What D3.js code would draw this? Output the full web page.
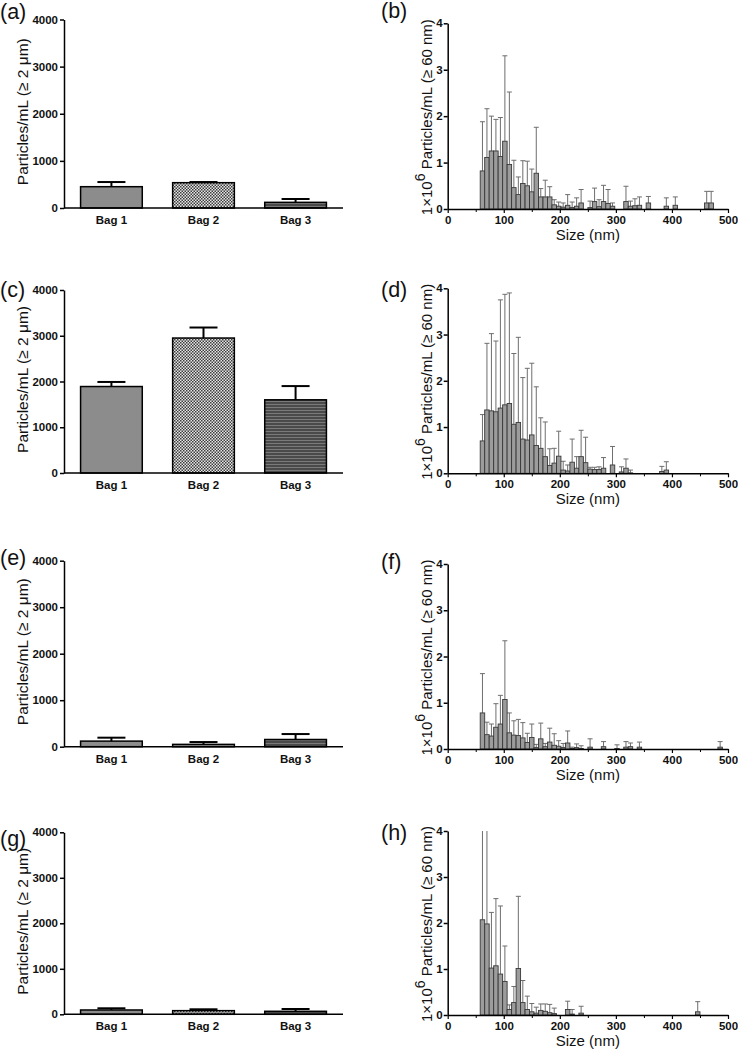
<!DOCTYPE html>
<html><head><meta charset="utf-8">
<script src="https://cdn.jsdelivr.net/npm/d3@7"></script>
<style>
html,body{margin:0;padding:0;background:#fff;}
svg{display:block;font-family:"Liberation Sans",Arial,sans-serif;}
.tick text{font-family:"Liberation Sans",Arial,sans-serif;font-weight:bold;font-size:11.5px;fill:#111;}
</style></head>
<body>
<svg id="chart" width="738" height="1050"></svg>
<script>
// ---------- DATA ----------
const bagCategories = ["Bag 1", "Bag 2", "Bag 3"];
const bagTicks = [0, 1000, 2000, 3000, 4000];
// mean and upper end of error bar (mean + SD), particles/mL >= 2 µm
const bagMeanA = [452, 537, 120];
const bagHighA = [551, 551, 191];
const bagMeanC = [1890, 2950, 1600];
const bagHighC = [1990, 3180, 1900];
const bagMeanE = [120, 50, 155];
const bagHighE = [194, 100, 272];
const bagMeanG = [95, 80, 66];
const bagHighG = [132, 110, 117];

const sizeTicks = [0, 100, 200, 300, 400, 500];
const sizeMinorTicks = [50, 150, 250, 350, 450];
const countTicks = [0, 1, 2, 3, 4];
const binWidth = 8; // nm

// (b)
const sizeB = [62,70,78,86,94,102,110,118,126,134,142,150,158,166,174,182,190,198,206,214,222,230,238,254,262,270,278,286,294,318,326,334,342,358,390,406,462,470];
const meanB = [0.82,1.11,1.25,1.25,1.13,1.46,0.96,0.46,0.31,0.55,0.50,0.37,0.77,0.26,0.26,0.26,0.09,0.06,0.04,0.08,0.03,0.06,0.13,0.03,0.16,0.05,0.16,0.12,0.06,0.16,0.06,0.07,0.08,0.13,0.06,0.08,0.13,0.13];
const highB = [1.88,2.16,2.00,1.93,1.97,3.30,2.52,1.05,0.69,1.04,1.03,0.86,1.76,0.44,0.62,0.48,0.20,0.15,0.13,0.31,0.15,0.24,0.42,0.17,0.45,0.20,0.51,0.42,0.13,0.49,0.17,0.22,0.26,0.27,0.24,0.26,0.38,0.38];

// (d)
const sizeD = [62,70,78,86,94,102,110,118,126,134,142,150,158,166,174,182,190,198,206,214,222,230,238,246,254,262,270,278,294,310,318,326,382,390];
const meanD = [0.70,1.37,1.35,1.33,1.41,1.48,1.51,1.06,1.10,0.74,0.72,0.83,0.60,0.54,0.36,0.17,0.22,0.37,0.07,0.05,0.24,0.11,0.36,0.23,0.09,0.08,0.08,0.11,0.18,0.03,0.11,0.01,0.04,0.07];
const highD = [1.27,2.81,3.02,2.86,3.75,3.87,3.90,2.59,2.94,2.07,2.27,2.38,1.87,1.20,1.11,0.53,0.54,0.91,0.26,0.18,0.74,0.36,0.93,0.78,0.13,0.13,0.14,0.34,0.58,0.14,0.31,0.07,0.15,0.25];

// (f)
const sizeF = [62,70,78,86,94,102,110,118,126,134,142,150,158,166,174,182,190,198,206,214,222,230,238,254,278,302,318,326,342,486];
const meanF = [0.78,0.31,0.28,0.47,0.54,1.07,0.35,0.30,0.29,0.24,0.14,0.25,0.03,0.22,0.05,0.15,0.08,0.06,0.03,0.13,0.01,0.03,0.01,0.04,0.05,0.01,0.04,0.05,0.04,0.04];
const highF = [1.63,0.58,0.54,0.98,1.16,2.34,0.78,0.61,0.64,0.57,0.34,0.54,0.10,0.56,0.12,0.45,0.33,0.18,0.12,0.39,0.04,0.11,0.07,0.22,0.16,0.09,0.16,0.13,0.15,0.16];

// (h)
const sizeH = [62,70,78,86,94,102,110,118,126,134,142,150,158,166,174,182,190,214,222,238,446];
const meanH = [2.07,1.98,1.02,1.07,0.89,0.73,0.12,0.27,1.01,0.27,0.12,0.07,0.04,0.10,0.08,0.05,0.03,0.12,0.02,0.04,0.07];
const highH = [4.6,4.4,2.23,2.53,2.37,1.50,0.22,0.62,2.58,0.75,0.41,0.25,0.17,0.24,0.24,0.23,0.15,0.30,0.12,0.19,0.29];

// ---------- LAYOUT ----------
const svg = d3.select("#chart");
const FONT = '"Liberation Sans", Arial, sans-serif';

const defs = svg.append("defs");
const checker = defs.append("pattern").attr("id", "checker")
  .attr("patternUnits", "userSpaceOnUse").attr("width", 3).attr("height", 3);
checker.append("rect").attr("width", 3).attr("height", 3).attr("fill", "#e6e6e6");
checker.append("rect").attr("x", 0).attr("y", 0).attr("width", 1.5).attr("height", 1.5).attr("fill", "#3c3c3c");
checker.append("rect").attr("x", 1.5).attr("y", 1.5).attr("width", 1.5).attr("height", 1.5).attr("fill", "#3c3c3c");
const hlines = defs.append("pattern").attr("id", "hlines")
  .attr("patternUnits", "userSpaceOnUse").attr("width", 4).attr("height", 3);
hlines.append("rect").attr("width", 4).attr("height", 3).attr("fill", "#4a4a4a");
hlines.append("rect").attr("y", 2).attr("width", 4).attr("height", 1).attr("fill", "#7a7a7a");
const bagFills = ["#8c8c8c", "url(#checker)", "url(#hlines)"];

function panelLabel(txt, x, y) {
  svg.append("text").attr("x", x).attr("y", y).attr("font-family", FONT)
    .attr("font-size", 21.5).attr("fill", "#111").text(txt);
}

function barPanel(cfg, means, highs) {
  const g = svg.append("g");
  const x = d3.scaleBand().domain(bagCategories).range([cfg.x0, cfg.x1])
    .paddingInner(0.33).paddingOuter(0.18);
  const y = d3.scaleLinear().domain([0, 4000]).range([cfg.yb, cfg.yt]);
  const data = bagCategories.map((c, i) => ({ c, m: means[i], h: highs[i], i }));
  const capW = 28;
  const eb = g.append("g").attr("stroke", "#000").attr("stroke-width", 2);
  data.forEach(d => {
    const cx = x(d.c) + x.bandwidth() / 2;
    eb.append("line").attr("x1", cx).attr("x2", cx).attr("y1", y(d.m)).attr("y2", y(d.h));
    eb.append("line").attr("x1", cx - capW / 2).attr("x2", cx + capW / 2).attr("y1", y(d.h)).attr("y2", y(d.h));
  });
  g.selectAll("rect.bar").data(data).join("rect").attr("class", "bar")
    .attr("x", d => x(d.c)).attr("width", x.bandwidth())
    .attr("y", d => y(d.m)).attr("height", d => y(0) - y(d.m))
    .attr("fill", d => bagFills[d.i]).attr("stroke", "#000").attr("stroke-width", 1.5);
  const ya = g.append("g").attr("transform", `translate(${cfg.x0},0)`)
    .call(d3.axisLeft(y).tickValues(bagTicks).tickSize(4).tickSizeOuter(0).tickPadding(2).tickFormat(d3.format("d")));
  ya.select(".domain").attr("stroke-width", 1.5);
  ya.selectAll(".tick line").attr("stroke-width", 1.5);
  const xa = g.append("g").attr("transform", `translate(0,${cfg.yb})`)
    .call(d3.axisBottom(x).tickSize(0).tickPadding(8));
  xa.select(".domain").remove();
  g.append("line").attr("x1", cfg.x0).attr("x2", cfg.x1).attr("y1", cfg.yb).attr("y2", cfg.yb)
    .attr("stroke", "#000").attr("stroke-width", 1.5);
  g.append("text").attr("transform", `translate(28,${(cfg.yt + cfg.yb) / 2 - 2}) rotate(-90)`)
    .attr("text-anchor", "middle").attr("font-family", FONT).attr("font-size", 15.5).attr("fill", "#111")
    .text("Particles/mL (\u2265 2 \u03bcm)");
}

let clipId = 0;
function histPanel(cfg, sizes, means, highs) {
  const g = svg.append("g");
  const x = d3.scaleLinear().domain([0, 500]).range([cfg.x0, cfg.x1]);
  const y = d3.scaleLinear().domain([0, 4]).range([cfg.yb, cfg.yt]);
  const id = "clip" + (clipId++);
  defs.append("clipPath").attr("id", id).append("rect")
    .attr("x", cfg.x0).attr("y", cfg.yt).attr("width", cfg.x1 - cfg.x0).attr("height", cfg.yb - cfg.yt);
  const data = sizes.map((s, i) => ({ s, m: means[i], h: highs[i] }));
  const plot = g.append("g").attr("clip-path", `url(#${id})`);
  const capW = 5;
  const eb = plot.append("g").attr("stroke", "#6e6e6e").attr("stroke-width", 1);
  data.forEach(d => {
    const cx = x(d.s);
    eb.append("line").attr("x1", cx).attr("x2", cx).attr("y1", y(d.m)).attr("y2", y(d.h));
    eb.append("line").attr("x1", cx - capW / 2).attr("x2", cx + capW / 2).attr("y1", y(d.h)).attr("y2", y(d.h));
  });
  plot.selectAll("rect").data(data).join("rect")
    .attr("x", d => x(d.s - binWidth / 2)).attr("width", d => x(d.s + binWidth / 2) - x(d.s - binWidth / 2))
    .attr("y", d => y(d.m)).attr("height", d => Math.max(0.5, y(0) - y(d.m)))
    .attr("fill", "#9c9c9c").attr("stroke", "#383838").attr("stroke-width", 0.9);
  const ya = g.append("g").attr("transform", `translate(${cfg.x0},0)`)
    .call(d3.axisLeft(y).tickValues(countTicks).tickSize(4).tickSizeOuter(0).tickPadding(1).tickFormat(d3.format("d")));
  ya.select(".domain").attr("stroke-width", 1.5);
  ya.selectAll(".tick line").attr("stroke-width", 1.5);
  const xa = g.append("g").attr("transform", `translate(0,${cfg.yb})`)
    .call(d3.axisBottom(x).tickValues(sizeTicks).tickSize(4).tickSizeOuter(0).tickPadding(3).tickFormat(d3.format("d")));
  xa.select(".domain").attr("stroke-width", 1.5);
  xa.selectAll(".tick line").attr("stroke-width", 1.2);
  g.append("g").attr("transform", `translate(0,${cfg.yb})`)
    .call(d3.axisBottom(x).tickValues(sizeMinorTicks).tickSize(3).tickFormat(""))
    .call(s => s.select(".domain").remove())
    .selectAll(".tick line").attr("stroke-width", 1);
  g.append("text").attr("x", (cfg.x0 + cfg.x1) / 2).attr("y", cfg.yb + 31)
    .attr("text-anchor", "middle").attr("font-family", FONT).attr("font-size", 15).attr("fill", "#111")
    .text("Size (nm)");
  const t = g.append("text").attr("transform", `translate(432,${(cfg.yt + cfg.yb) / 2 + 1}) rotate(-90)`)
    .attr("text-anchor", "middle").attr("font-family", FONT).attr("font-size", 15).attr("fill", "#111");
  t.append("tspan").text("1\u00d710");
  t.append("tspan").attr("dy", -7).attr("font-size", 14).text("6");
  t.append("tspan").attr("dy", 7).text("\u00a0Particles/mL (\u2265 60 nm)");
}

const L = { x0: 64, x1: 343 };
const R = { x0: 447.7, x1: 728 };

barPanel({ ...L, yt: 19.5, yb: 208 }, bagMeanA, bagHighA);
barPanel({ ...L, yt: 290, yb: 473 }, bagMeanC, bagHighC);
barPanel({ ...L, yt: 560.7, yb: 746.7 }, bagMeanE, bagHighE);
barPanel({ ...L, yt: 832.3, yb: 1014.3 }, bagMeanG, bagHighG);

histPanel({ ...R, yt: 23.3, yb: 209 }, sizeB, meanB, highB);
histPanel({ ...R, yt: 288.3, yb: 473.3 }, sizeD, meanD, highD);
histPanel({ ...R, yt: 564, yb: 749 }, sizeF, meanF, highF);
histPanel({ ...R, yt: 831, yb: 1015 }, sizeH, meanH, highH);

panelLabel("(a)", 0, 19);
panelLabel("(b)", 381, 18);
panelLabel("(c)", 0, 297);
panelLabel("(d)", 381, 297);
panelLabel("(e)", 0, 565);
panelLabel("(f)", 381, 569);
panelLabel("(g)", 0, 846);
panelLabel("(h)", 381, 840);
</script>
</body></html>
